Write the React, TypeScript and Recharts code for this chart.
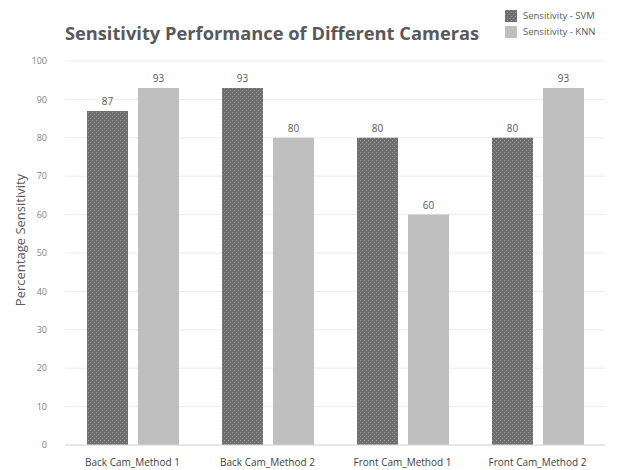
import { Bar, BarChart, CartesianGrid, LabelList, XAxis, YAxis } from "recharts";

const categories = ["Back Cam_Method 1", "Back Cam_Method 2", "Front Cam_Method 1", "Front Cam_Method 2"];
const svmValues = [87, 93, 80, 80];
const knnValues = [93, 80, 60, 93];
const yTicks = [0, 10, 20, 30, 40, 50, 60, 70, 80, 90, 100];

const data = categories.map((name, i) => ({ name, svm: svmValues[i], knn: knnValues[i] }));

const FONT = "'Open Sans', 'Noto Sans', sans-serif";
const INK = "#595959";

export default function App() {
  return (
    <div style={{ position: "relative", width: 625, height: 470, background: "#fff", fontFamily: FONT }}>
      <style>{"body{margin:0}"}</style>
      <div
        style={{
          position: "absolute",
          left: 62,
          top: 20,
          width: 420,
          textAlign: "center",
          fontSize: 18.3,
          fontWeight: 700,
          color: INK,
          whiteSpace: "nowrap",
        }}
      >
        Sensitivity Performance of Different Cameras
      </div>
      <div style={{ position: "absolute", left: 505, top: 8, fontSize: 9.5, color: INK, lineHeight: "16px" }}>
        <div style={{ display: "flex", alignItems: "center" }}>
          <svg width={12} height={12} style={{ marginRight: 6 }}>
            <rect width={12} height={12} fill="url(#svmPattern)" />
          </svg>
          Sensitivity - SVM
        </div>
        <div style={{ display: "flex", alignItems: "center" }}>
          <span style={{ width: 12, height: 12, background: "#bfbfbf", marginRight: 6, display: "inline-block" }} />
          Sensitivity - KNN
        </div>
      </div>
      <div
        style={{
          position: "absolute",
          left: 20,
          top: 240,
          transform: "translate(-50%, -50%) rotate(-90deg)",
          fontSize: 13,
          color: INK,
          whiteSpace: "nowrap",
        }}
      >
        Percentage Sensitivity
      </div>
      <BarChart
        width={625}
        height={470}
        data={data}
        margin={{ top: 61, right: 20, bottom: 5, left: 0 }}
        barGap={10}
        barSize={41}
      >
        <defs>
          <pattern id="svmPattern" width={4} height={4} patternUnits="userSpaceOnUse">
            <rect width={4} height={4} fill="#6e6e6e" />
            <rect x={0} y={0} width={1} height={1} fill="#9a9a9a" />
            <rect x={2} y={2} width={1} height={1} fill="#9a9a9a" />
          </pattern>
        </defs>
        <CartesianGrid stroke="#ececec" vertical={false} />
        <XAxis
          dataKey="name"
          axisLine={{ stroke: "#d9d9d9" }}
          tickLine={false}
          tick={{ fill: "#404040", fontSize: 10, fontFamily: FONT }}
          tickMargin={8}
          height={20}
          interval={0}
        />
        <YAxis
          domain={[0, 100]}
          ticks={yTicks}
          axisLine={false}
          tickLine={false}
          tick={{ fill: "#7f7f7f", fontSize: 9, fontFamily: FONT }}
          width={65}
          tickMargin={12}
        />
        <Bar dataKey="svm" fill="url(#svmPattern)" isAnimationActive={false}>
          <LabelList dataKey="svm" position="top" offset={6} fill="#595959" fontSize={10} fontFamily={FONT} />
        </Bar>
        <Bar dataKey="knn" fill="#bfbfbf" isAnimationActive={false}>
          <LabelList dataKey="knn" position="top" offset={6} fill="#595959" fontSize={10} fontFamily={FONT} />
        </Bar>
      </BarChart>
    </div>
  );
}
